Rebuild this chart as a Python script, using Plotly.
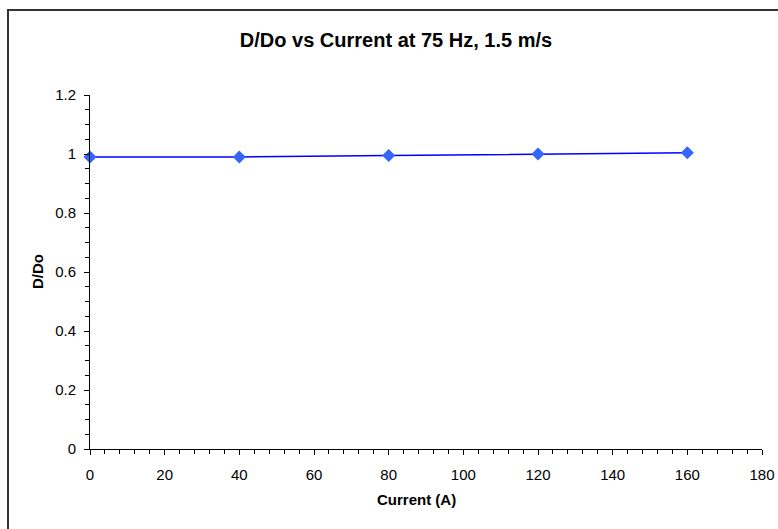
import plotly.graph_objects as go

# Measurements: normalised diameter against coil current
current_a = [0, 40, 80, 120, 160]
d_over_do = [0.99, 0.99, 0.995, 1.0, 1.004]

x_ticks = [0, 20, 40, 60, 80, 100, 120, 140, 160, 180]
y_ticks = [0, 0.2, 0.4, 0.6, 0.8, 1, 1.2]
y_tick_text = ["0", "0.2", "0.4", "0.6", "0.8", "1", "1.2"]

W, H = 778, 529
ML, MR, MT, MB = 90, 16, 95, 80
pw, ph = W - ML - MR, H - MT - MB

def px_to_paper_x(px):
    return (px - ML) / pw

def px_to_paper_y(py):
    return (H - MB - py) / ph

font = "Liberation Sans, Arial, sans-serif"

fig = go.Figure()
fig.add_trace(go.Scatter(
    x=current_a, y=d_over_do, mode="lines+markers",
    line=dict(color="#0000FF", width=1.5),
    marker=dict(symbol="diamond", size=10, color="#3366FF",
                line=dict(width=0)),
    showlegend=False, cliponaxis=False,
))

axis_common = dict(
    showgrid=False, zeroline=False, showline=True, linecolor="black",
    linewidth=1, ticks="outside", ticklen=5, tickwidth=1, tickcolor="black",
    tickfont=dict(family=font, size=15, color="black"),
    automargin=False,
)

fig.update_xaxes(
    range=[0, 180], tickvals=x_ticks, ticktext=[str(v) for v in x_ticks],
    minor=dict(dtick=4, tick0=0, ticks="outside", ticklen=4, tickcolor="black"),
    ticklabelstandoff=7,
    **axis_common,
)
fig.update_yaxes(
    range=[0, 1.2], tickvals=y_ticks, ticktext=y_tick_text,
    minor=dict(dtick=0.05, tick0=0, ticks="outside", ticklen=4, tickcolor="black"),
    ticklabelstandoff=5,
    **axis_common,
)

fig.update_layout(
    width=W, height=H,
    margin=dict(l=ML, r=MR, t=MT, b=MB),
    plot_bgcolor="white", paper_bgcolor="white",
    title=dict(text="<b>D/Do vs Current at 75 Hz, 1.5 m/s</b>",
               font=dict(family=font, size=20, color="black"),
               x=396 / W, xanchor="center", y=1 - 40 / H, yanchor="middle"),
    annotations=[
        dict(text="<b>Current (A)</b>", xref="paper", yref="paper",
             x=px_to_paper_x(416), y=px_to_paper_y(499),
             xanchor="center", yanchor="middle", showarrow=False,
             font=dict(family=font, size=15, color="black")),
        dict(text="<b>D/Do</b>", xref="paper", yref="paper",
             x=px_to_paper_x(37), y=px_to_paper_y(272), textangle=-90,
             xanchor="center", yanchor="middle", showarrow=False,
             font=dict(family=font, size=15, color="black")),
    ],
    shapes=[dict(
        type="rect", xref="paper", yref="paper",
        x0=px_to_paper_x(8), x1=px_to_paper_x(W + 10),
        y0=px_to_paper_y(H + 10), y1=px_to_paper_y(10),
        line=dict(color="#333333", width=2), fillcolor="rgba(0,0,0,0)",
        layer="above",
    )],
)

fig.write_html("out.html")
